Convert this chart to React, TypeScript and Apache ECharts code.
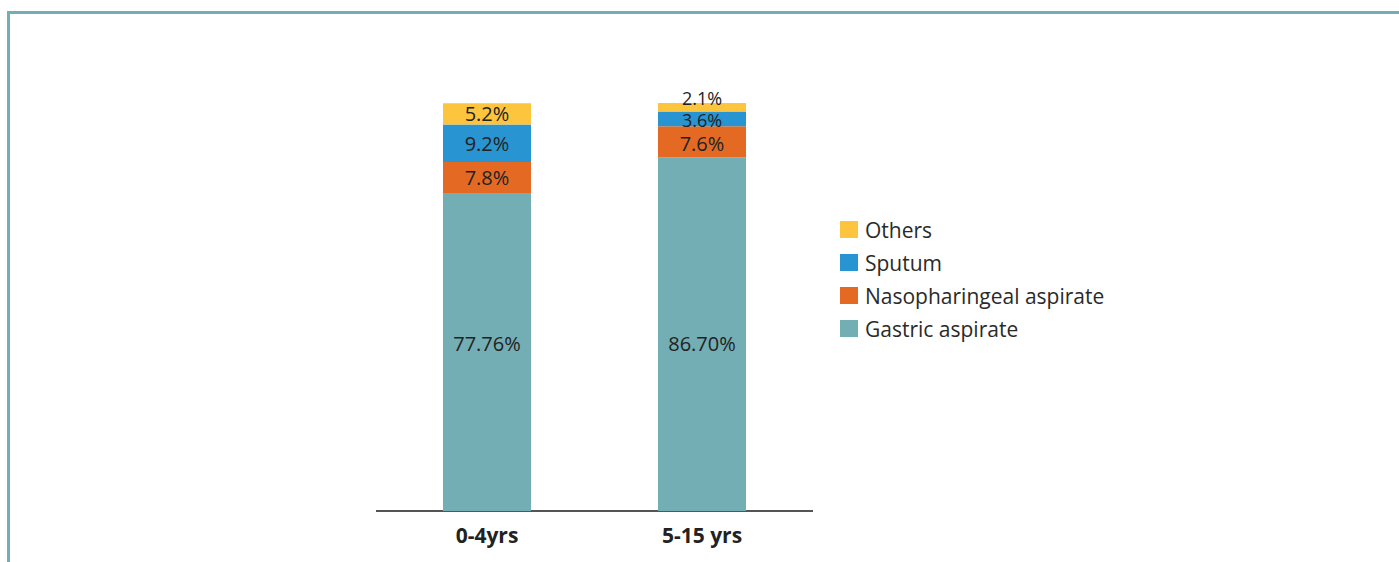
import React, { useEffect, useRef } from "react";
import * as echarts from "echarts";

const categories = ["0-4yrs", "5-15 yrs"];
const gastric = [77.76, 86.7];
const naso = [7.8, 7.6];
const sputum = [9.2, 3.6];
const others = [5.2, 2.1];
const gastricLabels = ["77.76%", "86.70%"];
const nasoLabels = ["7.8%", "7.6%"];
const sputumLabels = ["9.2%", "3.6%"];
const othersLabels = ["5.2%", "2.1%"];
const seriesNames = ["Gastric aspirate", "Nasopharingeal aspirate", "Sputum", "Others"];
const legendOrder = ["Others", "Sputum", "Nasopharingeal aspirate", "Gastric aspirate"];
const colors = ["#73AEB5", "#E46A24", "#2894D2", "#FDC53E"];

const FONT = "'Open Sans', 'Noto Sans', sans-serif";

export default function App() {
  const ref = useRef<HTMLDivElement>(null);
  useEffect(() => {
    if (!ref.current) return;
    const chart = echarts.init(ref.current, undefined, { renderer: "svg" });
    const vals = [gastric, naso, sputum, others];
    const labs = [gastricLabels, nasoLabels, sputumLabels, othersLabels];
    const labelOffsets: number[][][] = [
      [[0, -9], [0, 9]],
      [[0, 0], [0, 2]],
      [[0, 0], [0, 1]],
      [[0, 0], [0, -9]],
    ];
    const labelSizes: number[][] = [
      [20, 20],
      [20, 20],
      [20, 18],
      [20, 18],
    ];
    chart.setOption({
      animation: false,
      textStyle: { fontFamily: FONT },
      graphic: [
        {
          type: "rect",
          shape: { x: 8.5, y: 12.5, width: 1420, height: 600 },
          style: { fill: "none", stroke: "#72AEB5", lineWidth: 3 },
          silent: true,
        },
        {
          type: "line",
          shape: { x1: 376, y1: 511, x2: 813, y2: 511 },
          style: { stroke: "#555", lineWidth: 2 },
          silent: true,
        },
      ],
      legend: {
        data: legendOrder,
        orient: "vertical",
        left: 835,
        top: 214,
        itemWidth: 18,
        itemHeight: 17,
        itemGap: 12,
        icon: "rect",
        textStyle: { fontSize: 21, color: "#2a2a2a", fontFamily: FONT, lineHeight: 19, padding: [0, 0, 0, 2] },
      },
      grid: { left: 379.5, right: 589.5, top: 103, bottom: 51 },
      xAxis: {
        type: "category",
        data: categories,
        axisLine: { lineStyle: { color: "#555", width: 2 } },
        axisTick: { show: false },
        axisLabel: { fontSize: 21, fontWeight: "bold", color: "#222", margin: 13, fontFamily: FONT },
      },
      yAxis: { type: "value", min: 0, max: 100, show: false, splitLine: { show: false } },
      series: seriesNames.map((name, i) => ({
        name,
        type: "bar",
        stack: "total",
        barWidth: 88,
        itemStyle: { color: colors[i] },
        label: {
          show: true,
          position: "inside",
          fontSize: 20,
          lineHeight: 15,
          color: "#222",
          fontFamily: FONT,
          formatter: (p: any) => labs[i][p.dataIndex],
        },
        data: vals[i].map((v, j) => ({
          value: v,
          label: { offset: labelOffsets[i][j], fontSize: labelSizes[i][j] },
        })),
      })),
    });
    return () => chart.dispose();
  }, []);
  return (
    <div
      ref={ref}
      style={{ position: "fixed", left: 0, top: 0, width: 1399, height: 562, background: "#fff" }}
    />
  );
}
